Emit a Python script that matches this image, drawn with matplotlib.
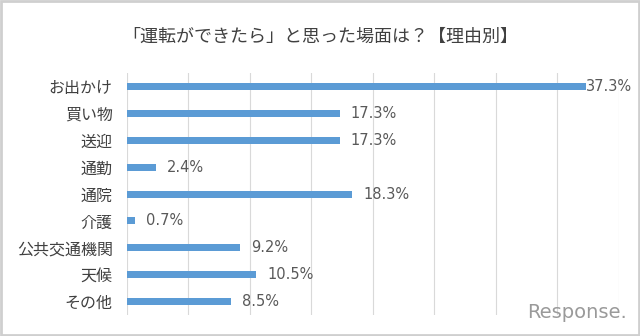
import matplotlib
matplotlib.use('Agg')
import matplotlib.pyplot as plt
from matplotlib.patches import Rectangle

plt.rcParams['font.family'] = ['Noto Sans CJK JP', 'DejaVu Sans']

categories = ['お出かけ', '買い物', '送迎', '通勤', '通院', '介護', '公共交通機関', '天候', 'その他']
values = [37.3, 17.3, 17.3, 2.4, 18.3, 0.7, 9.2, 10.5, 8.5]
title = '「運転ができたら」と思った場面は？【理由別】'

fig = plt.figure(figsize=(6.4, 3.36), dpi=100)
ax = fig.add_axes([0.198, 0.0625, 0.769, 0.72])

y = list(range(len(categories)))
ax.barh(y, values, height=0.26, color='#5B9BD5', zorder=3)

# value labels, the longest one sits right at the bar end (like in excel)
for i, v in enumerate(values):
    off = 8 if v < 35 else 0
    ax.annotate(f'{v:.1f}%', (v, i), xytext=(off, 0), textcoords='offset points',
                va='center', ha='left', fontsize=10.5, color='#595959',
                family='DejaVu Sans')

ax.set_xlim(0, 40)
ax.set_ylim(8.5, -0.5)
ax.set_xticks(range(0, 41, 5))
ax.xaxis.grid(True, color='#d9d9d9', linewidth=0.8, zorder=0)
ax.tick_params(axis='x', length=0, labelbottom=False)
ax.tick_params(axis='y', length=0, pad=10)
ax.set_yticks(y)
ax.set_yticklabels(categories, fontsize=11.5, color='#404040')
for s in ax.spines.values():
    s.set_visible(False)

fig.text(0.5, 0.89, title, ha='center', va='center', fontsize=13, color='#404040')
fig.text(0.98, 0.07, 'Response.', ha='right', va='center', fontsize=14,
         color='#9a9a9a', family='DejaVu Sans')

fig.patches.append(Rectangle((0.002, 0.003), 0.996, 0.994, transform=fig.transFigure,
                             fill=False, edgecolor='#cfcfcf', linewidth=2))

fig.savefig('out.png', dpi=100)
plt.close(fig)
